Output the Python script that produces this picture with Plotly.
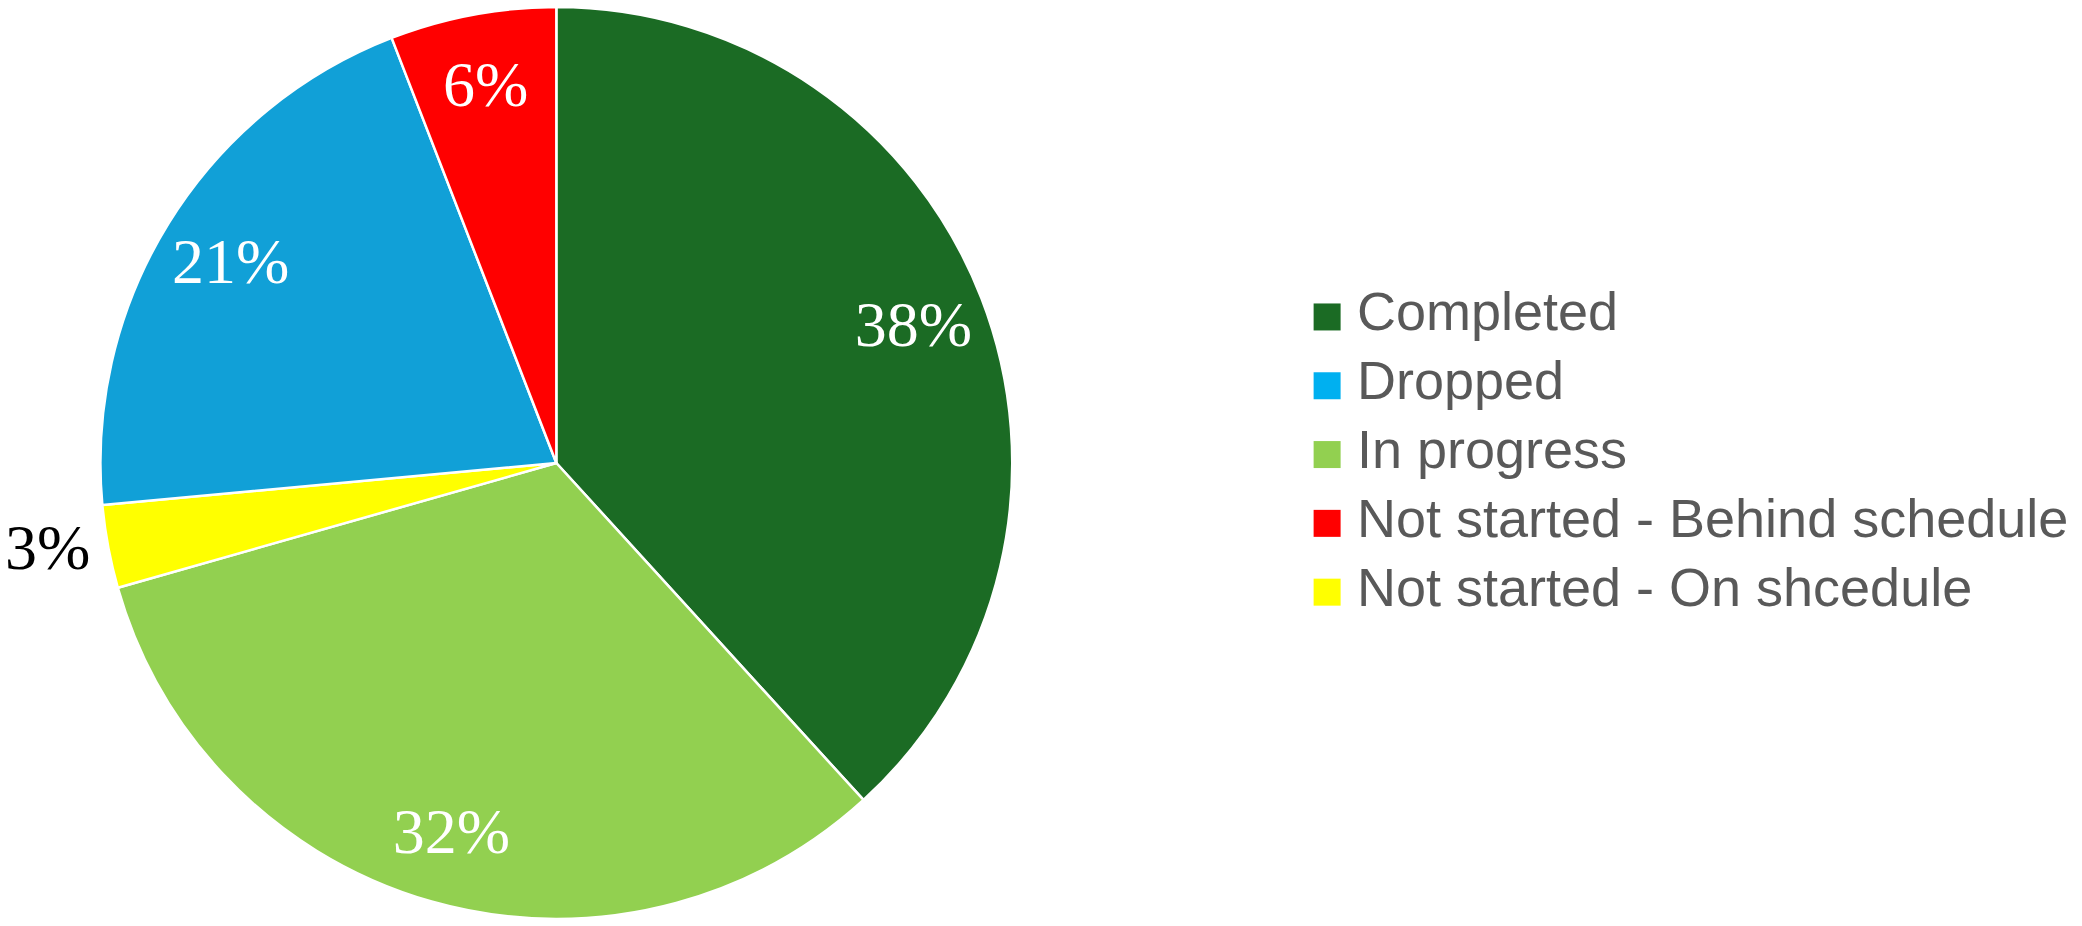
import plotly.graph_objects as go

slice_labels = ["Completed", "In progress", "Not started - On shcedule", "Dropped", "Not started - Behind schedule"]
slice_values = [13, 11, 1, 7, 2]
slice_colors = ["#1B6B24", "#92D050", "#FFFF00", "#11A0D7", "#FF0000"]
slice_textpos = ["inside", "inside", "outside", "inside", "inside"]

legend_labels = ["Completed", "Dropped", "In progress", "Not started - Behind schedule", "Not started - On shcedule"]
legend_colors = ["#1B6B24", "#00B0F0", "#92D050", "#FF0000", "#FFFF00"]

W, H = 2082, 926
cx, cy, R = 546, 462, 459
dom = dict(x=[(cx - R) / W, (cx + R) / W], y=[(H - cy - R) / H, (H - cy + R) / H])

fig = go.Figure()
# main pie (only the small outside label shown here)
main_tt = ["%{percent:.0%}" if p == "outside" else "" for p in slice_textpos]
fig.add_trace(go.Pie(
    labels=slice_labels, values=slice_values, sort=False, direction="clockwise", rotation=0,
    marker=dict(colors=slice_colors, line=dict(color="white", width=2.5)),
    texttemplate=main_tt, textposition=slice_textpos,
    insidetextfont=dict(family="Liberation Serif", size=64, color="white"),
    outsidetextfont=dict(family="Liberation Serif", size=64, color="black"),
    showlegend=False, hoverinfo="label+percent", domain=dom,
))
# transparent ring carrying the inside labels near the rim
ring_tt = ["" if p == "outside" else "%{percent:.0%}" for p in slice_textpos]
fig.add_trace(go.Pie(
    labels=slice_labels, values=slice_values, sort=False, direction="clockwise", rotation=0,
    hole=0.68,
    marker=dict(colors=["rgba(0,0,0,0)"] * len(slice_values), line=dict(width=0)),
    texttemplate=ring_tt, textposition=slice_textpos,
    insidetextorientation="horizontal",
    insidetextfont=dict(family="Liberation Serif", size=64, color="white"),
    outsidetextfont=dict(family="Liberation Serif", size=64, color="rgba(0,0,0,0)"),
    showlegend=False, hoverinfo="skip", domain=dom,
))
# legend drawn on a pixel-scaled hidden axis
leg_x, leg_y0, leg_dy, txt_dx = 1322, 315, 69.25, 30
leg_y = [leg_y0 + i * leg_dy for i in range(len(legend_labels))]
fig.add_trace(go.Scatter(
    x=[leg_x] * len(legend_labels), y=leg_y, mode="markers",
    marker=dict(symbol="square", size=27, color=legend_colors, line=dict(width=0)),
    showlegend=False, hoverinfo="skip",
))
fig.add_trace(go.Scatter(
    x=[leg_x + txt_dx] * len(legend_labels), y=leg_y, mode="text",
    text=legend_labels, textposition="middle right",
    textfont=dict(family="Liberation Sans", size=54, color="#595959"),
    showlegend=False, hoverinfo="skip",
))

fig.update_layout(
    width=W, height=H, margin=dict(l=0, r=0, t=0, b=0),
    paper_bgcolor="white", plot_bgcolor="rgba(0,0,0,0)",
    xaxis=dict(visible=False, range=[0, W], fixedrange=True),
    yaxis=dict(visible=False, range=[H, 0], fixedrange=True),
    showlegend=False,
    uniformtext=dict(minsize=64, mode="show"),
)
fig.write_html("out.html", post_script="document.body.style.margin='0';document.body.style.overflow='hidden';")
